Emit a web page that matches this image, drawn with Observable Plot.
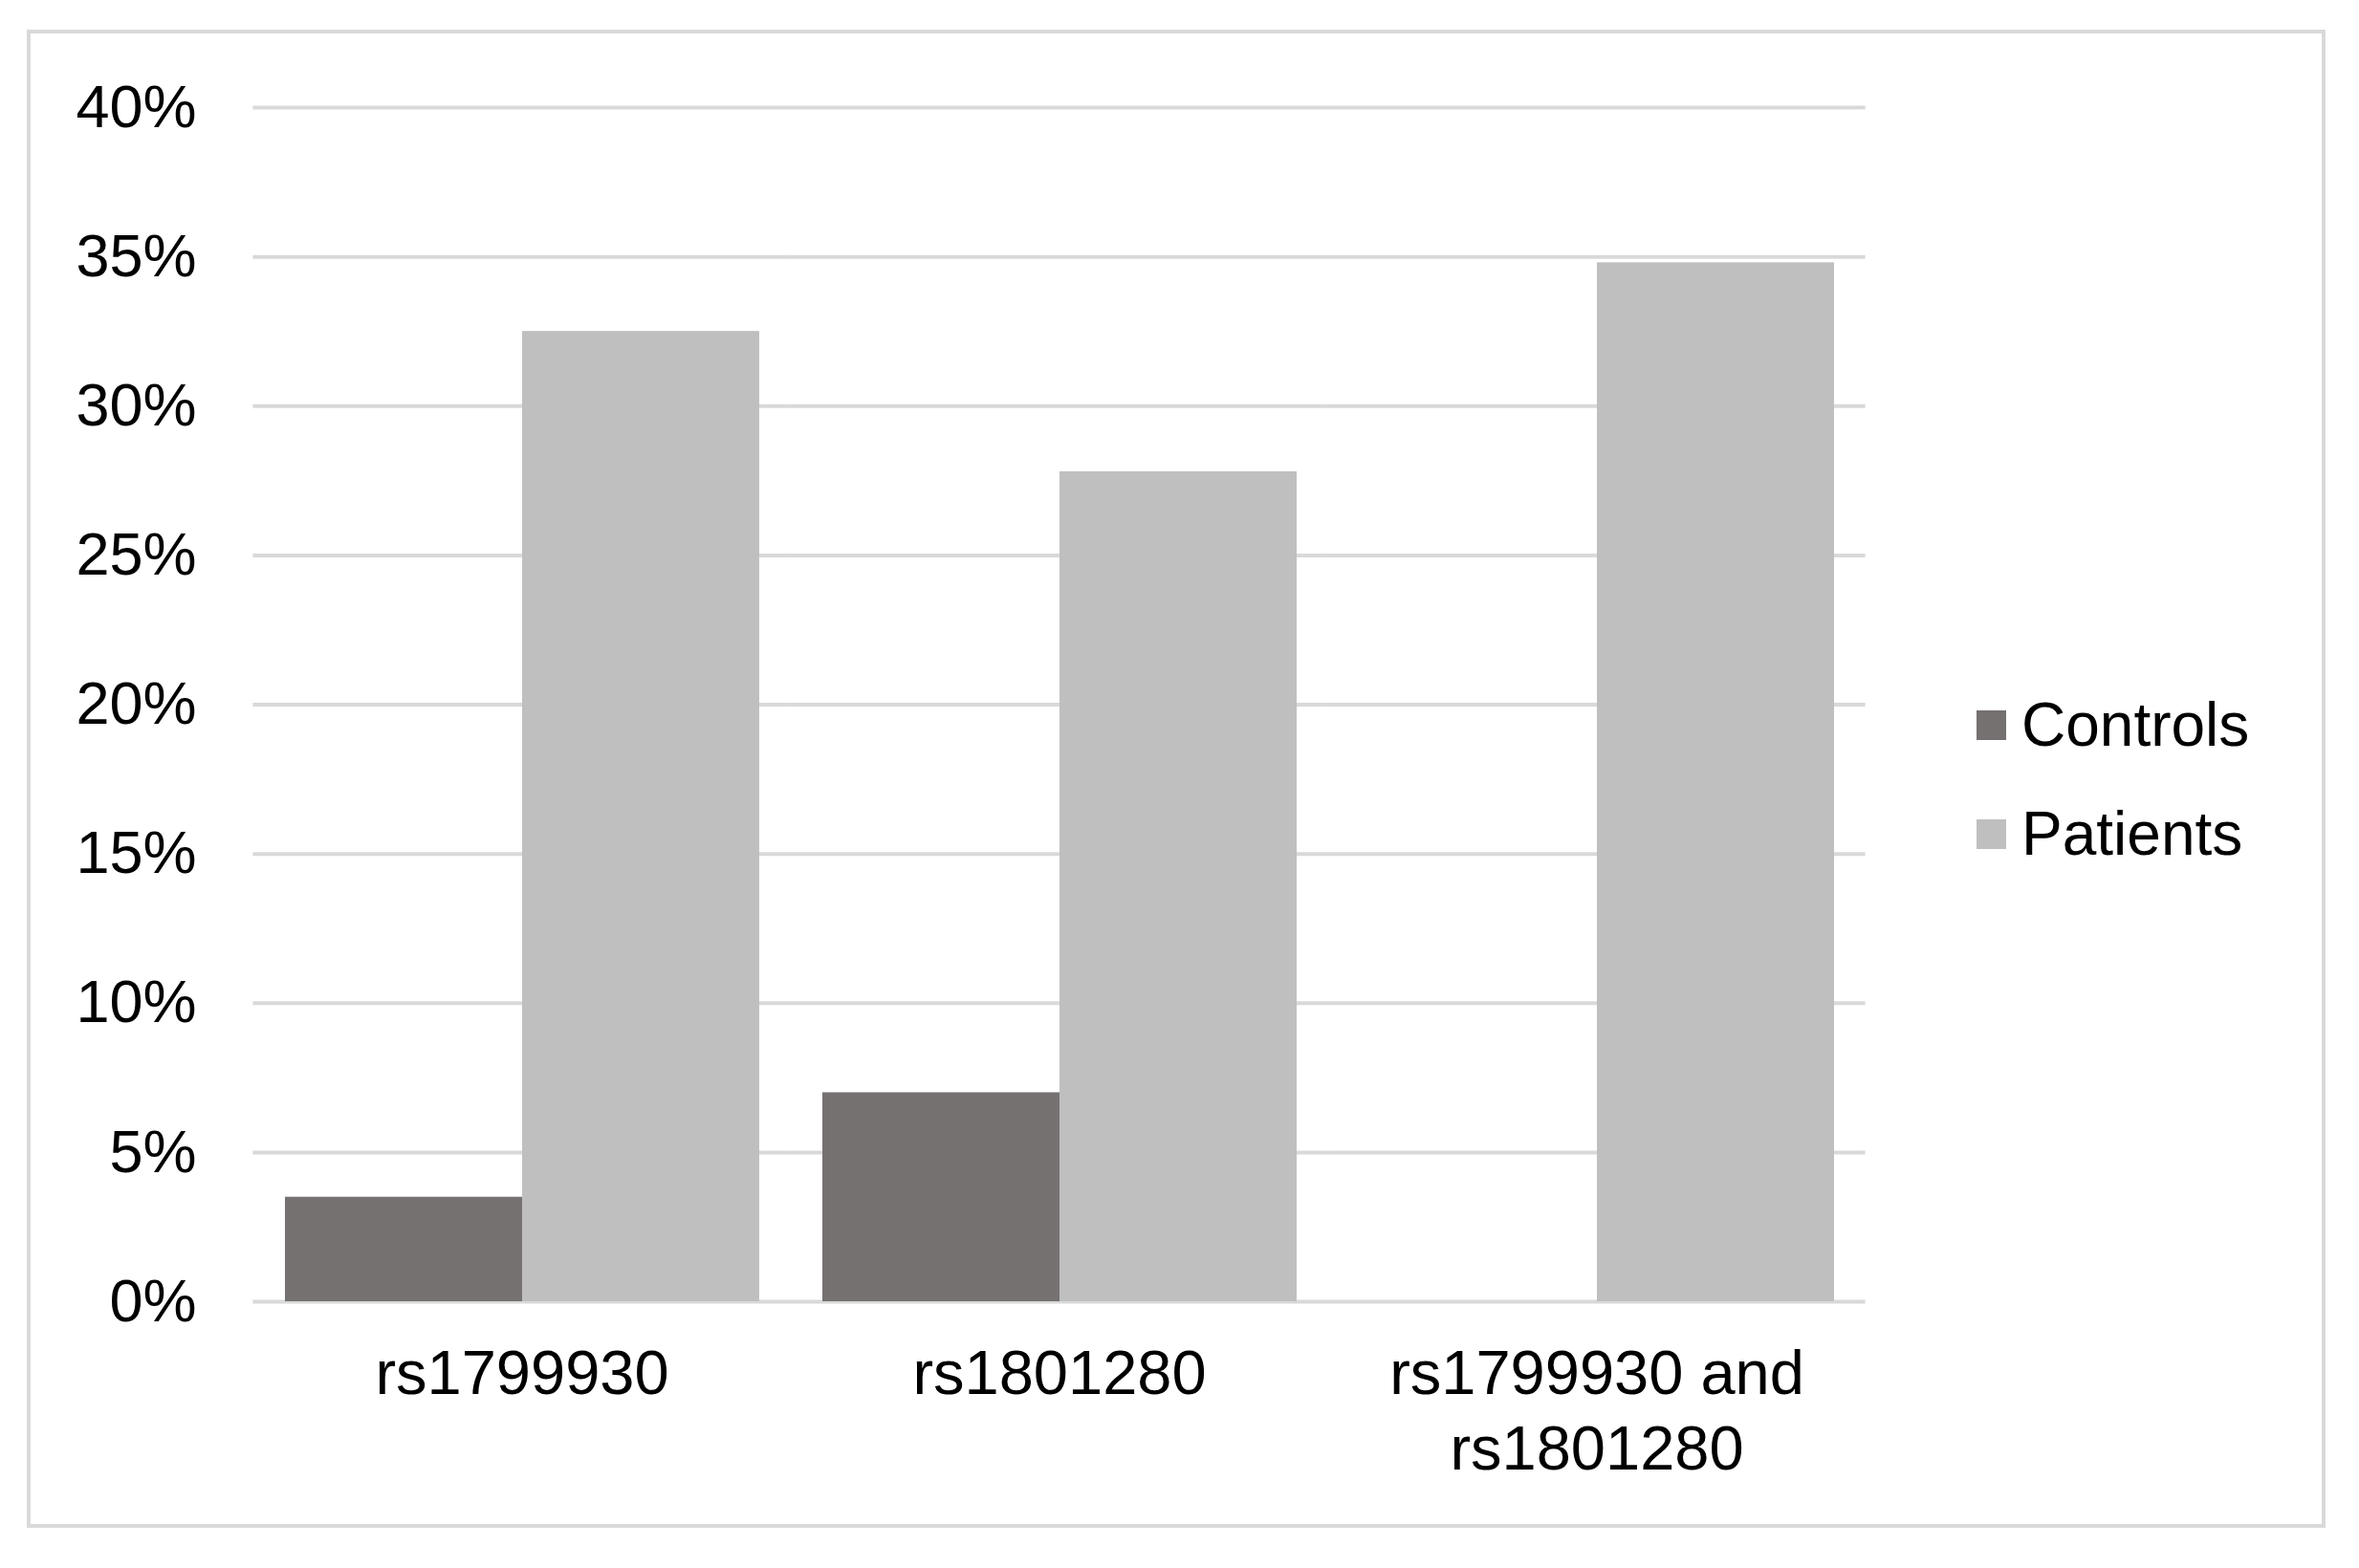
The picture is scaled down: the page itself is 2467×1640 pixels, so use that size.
<!DOCTYPE html>
<html><head><meta charset="utf-8">
<script src="https://cdn.jsdelivr.net/npm/d3@7"></script>
<script src="https://cdn.jsdelivr.net/npm/@observablehq/plot@0.6"></script>
<style>
html,body{margin:0;padding:0;background:#fff;}
#wrap{position:relative;width:2467px;height:1640px;overflow:hidden;font-family:"Liberation Sans",Arial,sans-serif;}
#border{position:absolute;left:28px;top:31px;width:2404px;height:1567px;border:4px solid #d9d9d9;box-sizing:border-box;}
#chart{position:absolute;left:0;top:0;}
.lg{position:absolute;left:2067px;height:60px;display:flex;align-items:center;font-size:64px;color:#000;white-space:nowrap;}
.sw{width:31px;height:31px;margin-right:16px;flex:none;}
</style></head>
<body>
<div id="wrap"><div id="border"></div><div id="chart"></div></div>
<script>
const categories = ["rs1799930", "rs1801280", "rs1799930 and rs1801280"];
const categoryLabels = ["rs1799930", "rs1801280", "rs1799930 and\nrs1801280"];
const series = ["Controls", "Patients"];
const controls = [3.5, 7.0, 0];
const patients = [32.5, 27.8, 34.8];
const colors = ["#767171", "#bfbfbf"];
const yTicks = [0, 5, 10, 15, 20, 25, 30, 35, 40];

const rows = [];
categories.forEach((c, i) => {
  rows.push({category: c, series: series[0], value: controls[i] / 100, label: categoryLabels[i]});
  rows.push({category: c, series: series[1], value: patients[i] / 100, label: categoryLabels[i]});
});

const W = 2467, H = 1640;
const mL = 264, mR = 516, mT = 112, mB = 279;
const padInner = 0.116;
const step = (W - mL - mR) / categories.length;
const halfGap = step * padInner / 2;

const chart = Plot.plot({
  width: W, height: H,
  marginLeft: mL, marginRight: mR, marginTop: mT, marginBottom: mB,
  style: {fontFamily: "Liberation Sans, Arial, sans-serif", fontSize: "63px", color: "#000", background: "transparent", overflow: "visible"},
  facet: {data: rows, x: "category"},
  fx: {domain: categories, paddingInner: padInner, paddingOuter: padInner / 2, axis: null, label: null},
  x: {domain: series, padding: 0, axis: null},
  y: {domain: [0, 0.4], ticks: yTicks.map(v => v / 100), tickFormat: d3.format(".0%"), tickSize: 0, tickPadding: 92, label: null},
  color: {domain: series, range: colors},
  marks: [
    Plot.ruleY(yTicks.map(v => v / 100), {stroke: "#d9d9d9", strokeWidth: 4, insetLeft: -halfGap, insetRight: -halfGap}),
    Plot.barY(rows, {x: "series", y: "value", fill: "series"}),
    Plot.text(rows, Plot.selectFirst({text: "label", frameAnchor: "bottom", lineAnchor: "top", dy: 40, lineHeight: 1.22, fontSize: 65, fill: "#000"}))
  ]
});
document.getElementById("chart").appendChild(chart);

const wrap = document.getElementById("wrap");
const legendCenters = [758, 872];
series.forEach((s, i) => {
  const row = document.createElement("div");
  row.className = "lg";
  row.style.top = (legendCenters[i] - 30) + "px";
  const sw = document.createElement("div");
  sw.className = "sw";
  sw.style.background = colors[i];
  const tx = document.createElement("span");
  tx.textContent = s;
  row.appendChild(sw); row.appendChild(tx);
  wrap.appendChild(row);
});
</script>
</body></html>
